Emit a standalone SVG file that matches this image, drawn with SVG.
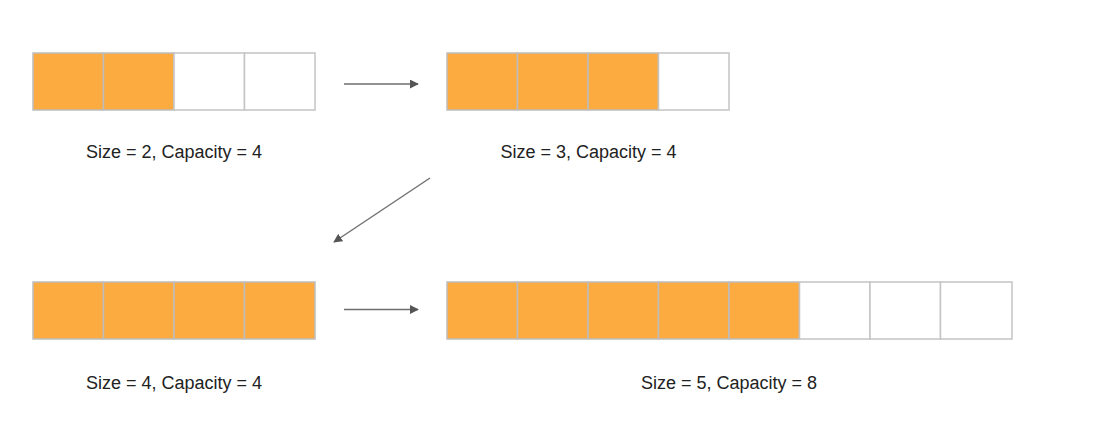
<svg xmlns="http://www.w3.org/2000/svg" width="1108" height="429" viewBox="0 0 1108 429">
<style>
.f{fill:#FBAB40;stroke:#BDBDBD;stroke-width:1.5}
.e{fill:#FFFFFF;stroke:#C4C4C4;stroke-width:1.5}
.t{font-family:"Liberation Sans",Arial,sans-serif;font-size:18px;fill:#222;text-anchor:middle}
.c{stroke:#6E6E6E;stroke-width:1.4;fill:none;marker-end:url(#ah)}
</style>
<defs>
<marker id="ah" viewBox="0 0 10 10" refX="9" refY="5" markerWidth="9" markerHeight="9" markerUnits="userSpaceOnUse" orient="auto">
<path d="M0,0 L10,5 L0,10 z" fill="#555"/>
</marker>
</defs>
<rect width="1108" height="429" fill="#fff"/>
<g id="array1">
<rect class="f" x="33" y="53" width="70.5" height="57"/>
<rect class="f" x="103.5" y="53" width="70.5" height="57"/>
<rect class="e" x="174" y="53" width="70.5" height="57"/>
<rect class="e" x="244.5" y="53" width="70.5" height="57"/>
<text class="t" x="174" y="158">Size = 2, Capacity = 4</text>
</g>
<g id="array2">
<rect class="f" x="447" y="53" width="70.5" height="57"/>
<rect class="f" x="517.5" y="53" width="70.5" height="57"/>
<rect class="f" x="588" y="53" width="70.5" height="57"/>
<rect class="e" x="658.5" y="53" width="70.5" height="57"/>
<text class="t" x="588.5" y="158">Size = 3, Capacity = 4</text>
</g>
<g id="array3">
<rect class="f" x="33" y="282" width="70.5" height="57"/>
<rect class="f" x="103.5" y="282" width="70.5" height="57"/>
<rect class="f" x="174" y="282" width="70.5" height="57"/>
<rect class="f" x="244.5" y="282" width="70.5" height="57"/>
<text class="t" x="174" y="389">Size = 4, Capacity = 4</text>
</g>
<g id="array4">
<rect class="f" x="447" y="282" width="70.5" height="57"/>
<rect class="f" x="517.5" y="282" width="70.5" height="57"/>
<rect class="f" x="588" y="282" width="70.5" height="57"/>
<rect class="f" x="658.5" y="282" width="70.5" height="57"/>
<rect class="f" x="729" y="282" width="70.5" height="57"/>
<rect class="e" x="799.5" y="282" width="70.5" height="57"/>
<rect class="e" x="870" y="282" width="70.5" height="57"/>
<rect class="e" x="940.5" y="282" width="71.5" height="57"/>
<text class="t" x="729" y="389">Size = 5, Capacity = 8</text>
</g>
<g id="connectors">
<line class="c" x1="344" y1="84" x2="418" y2="84"/>
<line class="c" x1="430" y1="178" x2="334" y2="242"/>
<line class="c" x1="344" y1="309.5" x2="418" y2="309.5"/>
</g>
</svg>
